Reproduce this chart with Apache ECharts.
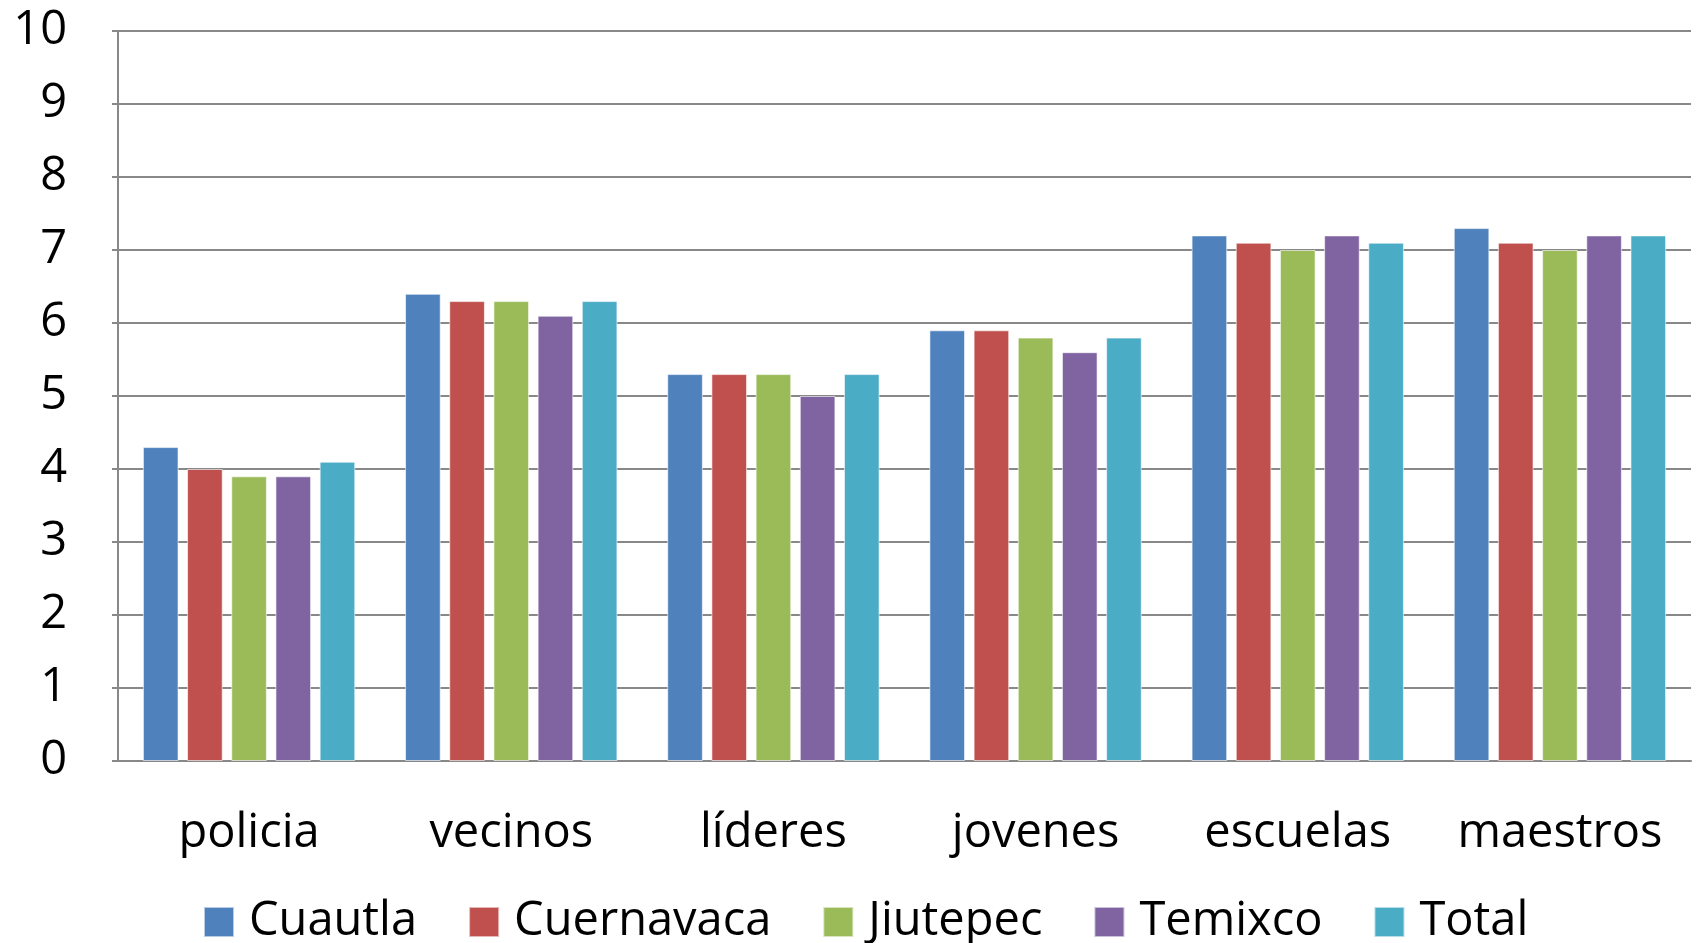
<!DOCTYPE html>
<html>
<head>
<meta charset="utf-8">
<script src="https://cdn.jsdelivr.net/npm/echarts@6/dist/echarts.min.js"></script>
<style>
  html, body { margin: 0; padding: 0; background: #fff; }
  #chart { width: 1696px; height: 943px; }
</style>
</head>
<body>
<div id="chart"></div>
<script>
const categories = ['policia', 'vecinos', 'líderes', 'jovenes', 'escuelas', 'maestros'];
const seriesNames = ['Cuautla', 'Cuernavaca', 'Jiutepec', 'Temixco', 'Total'];
const colors = ['#4F81BD', '#C0504D', '#9BBB59', '#8064A2', '#4BACC6'];

const cuautla    = [4.3, 6.4, 5.3, 5.9, 7.2, 7.3];
const cuernavaca = [4.0, 6.3, 5.3, 5.9, 7.1, 7.1];
const jiutepec   = [3.9, 6.3, 5.3, 5.8, 7.0, 7.0];
const temixco    = [3.9, 6.1, 5.0, 5.6, 7.2, 7.2];
const total      = [4.1, 6.3, 5.3, 5.8, 7.1, 7.2];
const seriesValues = [cuautla, cuernavaca, jiutepec, temixco, total];

const font = 'Open Sans';
const fontSize = 47;

const chart = echarts.init(document.getElementById('chart'));
chart.setOption({
  animation: false,
  color: colors,
  grid: { left: 118, right: 5, top: 31, bottom: 182 },
  legend: {
    data: seriesNames,
    top: 893,
    left: 198,
    itemWidth: 30,
    itemHeight: 30,
    itemGap: 51,
    icon: 'rect',
    textStyle: { fontFamily: font, fontSize: fontSize, lineHeight: 48, color: '#000', padding: [0, 0, 0, 10] }
  },
  xAxis: {
    type: 'category',
    data: categories,
    axisLine: { lineStyle: { color: '#888', width: 2 } },
    axisTick: { show: false },
    axisLabel: { interval: 0, margin: 49, fontFamily: font, fontSize: fontSize, color: '#000' }
  },
  yAxis: {
    type: 'value',
    min: 0,
    max: 10,
    interval: 1,
    axisLine: { show: true, lineStyle: { color: '#888', width: 2 } },
    axisTick: { show: true, length: 6, lineStyle: { color: '#888', width: 2 } },
    splitLine: { lineStyle: { color: '#888', width: 2 } },
    axisLabel: { margin: 51, fontFamily: font, fontSize: fontSize, color: '#000' }
  },
  series: seriesNames.map((name, i) => ({
    name: name,
    type: 'bar',
    data: seriesValues[i],
    barGap: '24%',
    barCategoryGap: '19%',
    itemStyle: { borderColor: 'rgba(255,255,255,0.6)', borderWidth: 1 }
  }))
});
</script>
</body>
</html>
